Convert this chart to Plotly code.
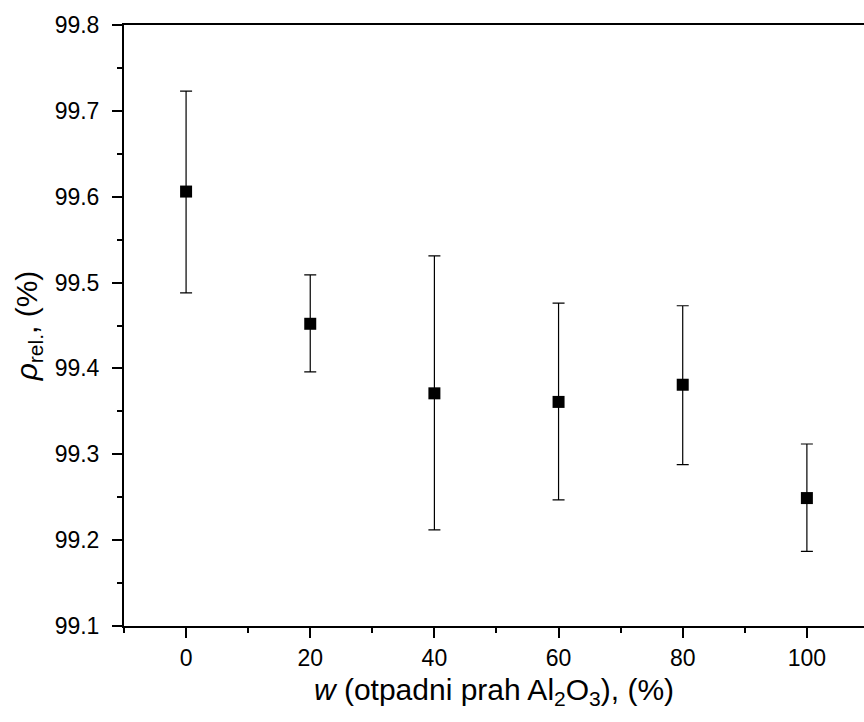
import plotly.graph_objects as go

w_values = [0, 20, 40, 60, 80, 100]
rho_rel = [99.606, 99.452, 99.371, 99.361, 99.381, 99.249]
err_upper = [99.723, 99.509, 99.531, 99.476, 99.473, 99.312]
err_lower = [99.488, 99.396, 99.212, 99.247, 99.288, 99.187]

plus = [u - v for u, v in zip(err_upper, rho_rel)]
minus = [v - l for v, l in zip(rho_rel, err_lower)]

font_family = "Arial, Liberation Sans, sans-serif"

fig = go.Figure()
fig.add_trace(go.Scatter(
    x=w_values, y=rho_rel, mode="markers",
    marker=dict(symbol="square", size=12, color="black", line=dict(width=0)),
    error_y=dict(type="data", symmetric=False, array=plus, arrayminus=minus,
                 color="black", thickness=1.2, width=6),
    showlegend=False,
))

fig.update_layout(
    width=864, height=722,
    margin=dict(l=124, r=0, t=25, b=96),
    plot_bgcolor="white", paper_bgcolor="white",
    font=dict(family=font_family, size=23, color="black"),
)
fig.update_xaxes(
    range=[-10, 109.2], tickmode="linear", tick0=0, dtick=20,
    showgrid=False, zeroline=False, automargin=False,
    showline=True, linecolor="black", linewidth=2, mirror=True,
    ticks="outside", ticklen=10, tickwidth=2, tickcolor="black",
    minor=dict(ticks="outside", dtick=10, tick0=0, ticklen=5, tickwidth=2, tickcolor="black", showgrid=False),
    tickfont=dict(size=23),
    title=dict(text="<i>w</i> (otpadni prah Al<sub>2</sub>O<sub>3</sub>), (%)", font=dict(size=30), standoff=9),
)
fig.update_yaxes(
    range=[99.1, 99.8], tickmode="linear", tick0=99.1, dtick=0.1, tickformat=".1f",
    showgrid=False, zeroline=False, automargin=False,
    showline=True, linecolor="black", linewidth=2, mirror=False,
    ticks="outside", ticklen=10, tickwidth=2, tickcolor="black", ticklabelstandoff=8,
    minor=dict(ticks="outside", dtick=0.05, tick0=99.1, ticklen=5, tickwidth=2, tickcolor="black", showgrid=False),
    tickfont=dict(size=23),
    title=dict(text="<i>ρ</i><sub>rel.</sub>, (%)", font=dict(size=30), standoff=8),
)

fig.write_html(
    "out.html",
    config={"displayModeBar": False},
    post_script="document.body.style.margin='0';document.body.style.overflow='hidden';",
)
